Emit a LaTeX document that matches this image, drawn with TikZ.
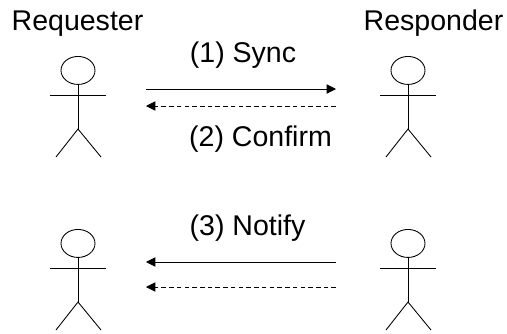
\documentclass[tikz,border=0pt]{standalone}
\usepackage{fontspec}
\setmainfont{Liberation Sans}
\usetikzlibrary{arrows.meta,shapes.geometric}
\tikzset{
	caption/.style={inner sep=0pt, anchor=base, font=\fontsize{21.4}{25}\selectfont},
	stick/.style={line width=0.65pt},
	sendline/.style={line width=0.65pt, -{Triangle[length=7pt,width=7pt]}},
	backline/.style={sendline, dash pattern=on 3.4pt off 2.4pt}
}
\begin{document}
	\begin{tikzpicture}[x=0.75pt, y=-0.75pt, every node/.style={inner sep=0pt}]
		\useasboundingbox (0,0) rectangle (507,333);
		
		% Labels
		\node[caption] (requester) at (77.5,30.5) {Requester};
		\node[caption] (responder) at (433.5,30.5) {Responder};
		\node[caption] (sync) at (243,62.5) {(1) Sync};
		\node[caption] (confirm) at (260.5,146.5) {(2) Confirm};
		\node[caption] (notify) at (247.5,235.5) {(3) Notify};
		
		% Arrow ends
		\coordinate (A1) at (146,89);
		\coordinate (B1) at (336,89);
		\coordinate (A2) at (146,106);
		\coordinate (B2) at (336,106);
		\coordinate (A3) at (146,262);
		\coordinate (B3) at (336,262);
		\coordinate (A4) at (146,287);
		\coordinate (B4) at (336,287);
		
		% Draw arrows
		\draw[sendline] (A1) -- (B1);
		\draw[backline] (B2) -- (A2);
		\draw[sendline] (B3) -- (A3);
		\draw[backline] (B4) -- (A4);
		
		% Draw actors
		\foreach \p/\x/\y in {reqtop/78/56, restop/408/56, reqbot/78/229, resbot/408/229}
		{
			\node[draw, stick, ellipse, minimum width=25.5pt, minimum height=21pt, anchor=north] (\p) at (\x,\y) {};
			\coordinate (\p-hip) at (\x,\y+73);
			\draw[stick] (\p.south) -- (\p-hip);
			\draw[stick] (\x-28,\y+39) -- (\x+28,\y+39);
			\draw[stick] (\x-22,\y+101) -- (\p-hip) -- (\x+23,\y+101);
		}
	\end{tikzpicture}
\end{document}
